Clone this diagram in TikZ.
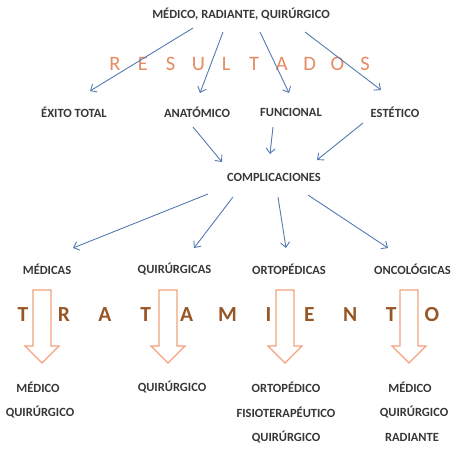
\documentclass[tikz,border=0pt]{standalone}
\usepackage{fontspec}
\setmainfont{Carlito}
\usetikzlibrary{arrows.meta, calc}
\definecolor{txtgray}{RGB}{55,55,55}
\definecolor{resorange}{RGB}{230,138,98}
\definecolor{trabrown}{RGB}{150,86,38}
\definecolor{arrblue}{RGB}{84,122,178}
\definecolor{blkorange}{RGB}{242,162,124}

\begin{document}
\begin{tikzpicture}[x=1pt, y=-1pt,
  lab/.style={font=\fontsize{12.5}{14}\selectfont\bfseries, text=txtgray, inner sep=1pt},
  res/.style={font=\fontsize{20.5}{22}\selectfont, text=resorange, inner sep=0pt},
  tra/.style={font=\fontsize{21.5}{24}\selectfont\bfseries, text=trabrown, inner sep=0pt},
  arr/.style={-{Straight Barb[length=5pt,width=9pt]}, line width=0.9pt, arrblue},
  blk/.style={draw=blkorange, line width=1.3pt, line join=miter}
]
\useasboundingbox (0,0) rectangle (465,453);

% levels
\node[lab] (trat) at (241,14) {MÉDICO, RADIANTE, QUIRÚRGICO};
\foreach \l [count=\i] in {R,E,S,U,L,T,A,D,O,S}
  \node[res] (res\i) at ({115+27.8*(\i-1)},64) {\l};
\node[lab] (exito) at (74,112) {ÉXITO TOTAL};
\node[lab] (anat) at (197,112) {ANATÓMICO};
\node[lab] (func) at (291,112) {FUNCIONAL};
\node[lab] (estet) at (395,112) {ESTÉTICO};
\node[lab] (compl) at (274,177) {COMPLICACIONES};
\node[lab] (medicas) at (47,269) {MÉDICAS};
\node[lab] (quir) at (174.5,269) {QUIRÚRGICAS};
\node[lab] (orto) at (289,269) {ORTOPÉDICAS};
\node[lab] (onco) at (412.5,269) {ONCOLÓGICAS};

% tratamiento
\foreach \cx in {42,168,285,409}
  \draw[blk] (\cx-9,290) -- (\cx+9,290) -- (\cx+9,346) -- (\cx+17,346)
    -- (\cx,363) -- (\cx-17,346) -- (\cx-9,346) -- cycle;
\foreach \l [count=\i] in {T,R,A,T,A,M,I,E,N,T,O}
  \node[tra] (tra\i) at ({23+40.9*(\i-1)},315) {\l};

\node[lab] (med1) at (38,387) {MÉDICO};
\node[lab] (qui1) at (40,412) {QUIRÚRGICO};
\node[lab] (qui2) at (172,387) {QUIRÚRGICO};
\node[lab] (ort3) at (286,387) {ORTOPÉDICO};
\node[lab] (fis3) at (286,412) {FISIOTERAPÉUTICO};
\node[lab] (qui3) at (286,437) {QUIRÚRGICO};
\node[lab] (med4) at (410,387) {MÉDICO};
\node[lab] (qui4) at (414,412) {QUIRÚRGICO};
\node[lab] (rad4) at (412,437) {RADIANTE};

% connectors
\draw[arr] ($(trat)+(-48,14)$) -- ($(exito)+(16,-21)$);
\draw[arr] ($(trat)+(-18,18)$) -- ($(anat)+(3,-19)$);
\draw[arr] ($(trat)+(19,18)$) -- ($(func)+(-2,-19)$);
\draw[arr] ($(trat)+(64,18)$) -- ($(estet)+(-14,-22)$);

\draw[arr] ($(anat)+(-4,15)$) -- ($(compl)+(-52,-15)$);
\draw[arr] ($(func)+(-18,15)$) -- ($(compl)+(-4,-23)$);
\draw[arr] ($(estet)+(-32,11)$) -- ($(compl)+(43,-17)$);

\draw[arr] ($(compl)+(-66,17)$) -- ($(medicas)+(26,-21)$);
\draw[arr] ($(compl)+(-41,20)$) -- ($(quir)+(19.5,-21)$);
\draw[arr] ($(compl)+(4,20)$) -- ($(orto)+(-3,-21)$);
\draw[arr] ($(compl)+(34,18)$) -- ($(onco)+(-24.5,-21)$);
\end{tikzpicture}
\end{document}
